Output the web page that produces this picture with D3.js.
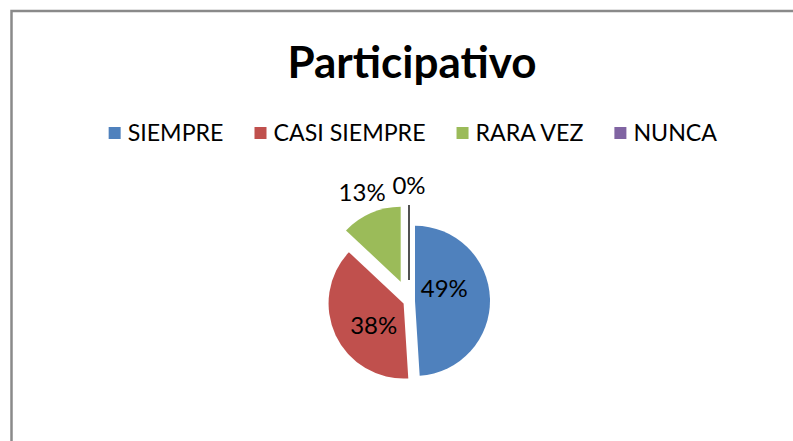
<!DOCTYPE html>
<html>
<head>
<meta charset="utf-8">
<script src="https://cdn.jsdelivr.net/npm/d3@7"></script>
<style>
  html, body { margin: 0; padding: 0; background: #fff; }
  svg { display: block; font-family: Lato, "Open Sans", sans-serif; }
</style>
</head>
<body>
<svg id="chart" width="793" height="441"></svg>
<script>
// ---- data ----
const title = "Participativo";
const categories = ["SIEMPRE", "CASI SIEMPRE", "RARA VEZ", "NUNCA"];
const values = [49, 38, 13, 0];
const percentLabels = ["49%", "38%", "13%", "0%"];

// ---- style ----
const colors = ["#4F81BD", "#C0504D", "#9BBB59", "#8064A2"];
const explode = [6, 6, 21, 21];              // slice offset in px along mid angle
const labelAngleShift = [-22, -11, 0, 0];    // degrees relative to mid angle
const labelRadius = [32, 37, 97, 95];        // px from slice apex

const W = 793, H = 441;
const svg = d3.select("#chart");

svg.append("rect").attr("width", W).attr("height", H).attr("fill", "#fff");
// chart border (only left & top edges visible in frame)
svg.append("rect")
  .attr("x", 11.5).attr("y", 11).attr("width", 900).attr("height", 600)
  .attr("fill", "none").attr("stroke", "#8a8a8a").attr("stroke-width", 2.5);

// title
svg.append("text")
  .attr("x", 412).attr("y", 78)
  .attr("text-anchor", "middle")
  .attr("font-weight", "bold")
  .attr("font-size", 44)
  .attr("fill", "#000")
  .text(title);

// legend
const legendFont = 23.2, sq = 12, sqGap = 7, itemGap = 31, legendCenter = 413, legendBase = 141;
const lg = svg.append("g");
const items = lg.selectAll("g").data(categories).join("g");
items.append("rect")
  .attr("width", sq).attr("height", sq)
  .attr("y", legendBase - 14)
  .attr("fill", (d, i) => colors[i]);
items.append("text")
  .attr("x", sq + sqGap).attr("y", legendBase)
  .attr("font-size", legendFont).attr("fill", "#000")
  .text(d => d);
let widths = [];
items.each(function() { widths.push(this.getBBox().width); });
const total = d3.sum(widths) + itemGap * (widths.length - 1);
let x0 = legendCenter - total / 2;
items.attr("transform", (d, i) => {
  const x = x0; x0 += widths[i] + itemGap; return `translate(${x},0)`;
});

// pie
const cx = 409, cy = 301, R = 75;
const pie = d3.pie().sort(null).value(d => d)(values);
const arc = d3.arc().innerRadius(0).outerRadius(R);
const g = svg.append("g").attr("transform", `translate(${cx},${cy})`);

const slices = g.selectAll("g.slice").data(pie).join("g").attr("class", "slice")
  .attr("transform", (d, i) => {
    const a = (d.startAngle + d.endAngle) / 2;
    return `translate(${explode[i] * Math.sin(a)},${-explode[i] * Math.cos(a)})`;
  });

slices.append("path")
  .attr("d", arc)
  .attr("fill", (d, i) => colors[i])
  .attr("stroke", d => d.value === 0 ? "#1a1a1a" : "none")
  .attr("stroke-width", d => d.value === 0 ? 1.5 : 0);

slices.append("text")
  .attr("transform", (d, i) => {
    const a = (d.startAngle + d.endAngle) / 2 + labelAngleShift[i] * Math.PI / 180;
    return `translate(${labelRadius[i] * Math.sin(a)},${-labelRadius[i] * Math.cos(a)})`;
  })
  .attr("text-anchor", "middle")
  .attr("dy", "0.36em")
  .attr("font-size", 24)
  .attr("fill", "#000")
  .text((d, i) => percentLabels[i]);
</script>
</body>
</html>
